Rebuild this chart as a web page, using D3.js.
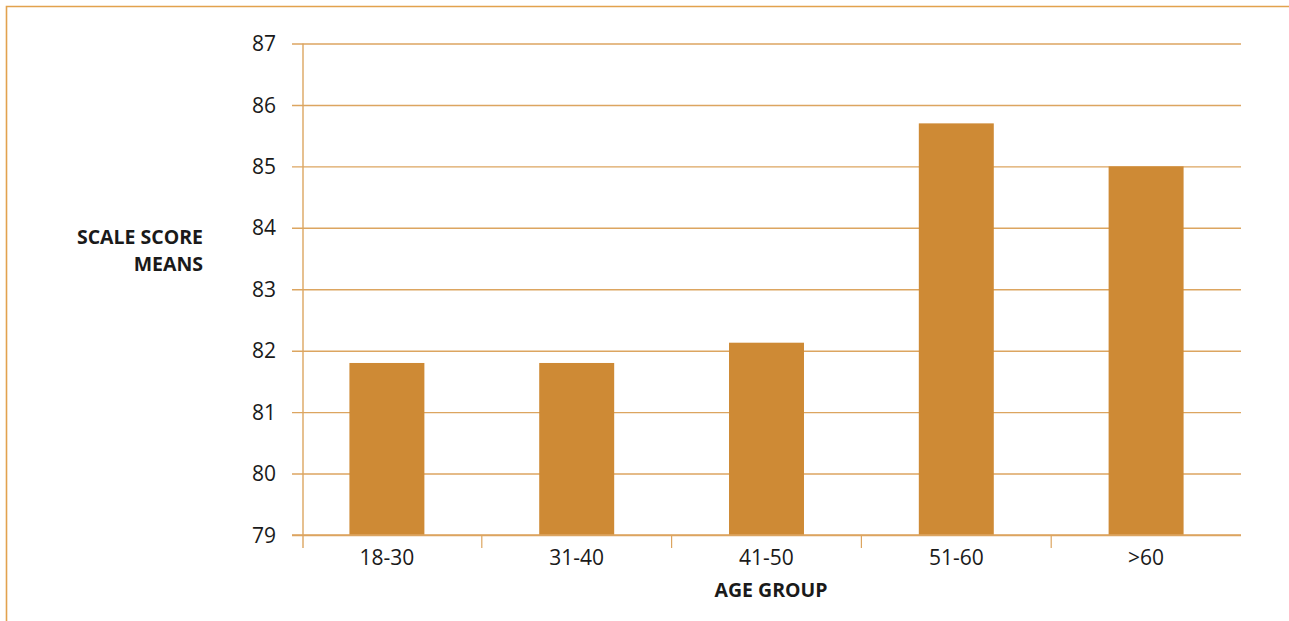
<!DOCTYPE html>
<html>
<head>
<meta charset="utf-8">
<script src="https://cdn.jsdelivr.net/npm/d3@7"></script>
<style>
  html, body { margin: 0; padding: 0; background: #fff; }
  svg { display: block; }
  text { font-family: "Open Sans", "Noto Sans", sans-serif; fill: #1a1a1a; }
</style>
</head>
<body>
<svg id="chart" width="1289" height="621"></svg>
<script>
const categories = ["18-30", "31-40", "41-50", "51-60", ">60"];
const means = [81.8, 81.8, 82.13, 85.7, 85.0];
const yTicks = [79, 80, 81, 82, 83, 84, 85, 86, 87];
const yTitle = ["SCALE SCORE", "MEANS"];
const xTitle = "AGE GROUP";

const W = 1289, H = 621;
const gridColor = "#DCA560";
const barColor = "#CE8A35";
const frameColor = "#E2A24E";

const svg = d3.select("#chart");

// frame
svg.append("path")
  .attr("d", `M6.5,621 L6.5,6.5 L${W},6.5`)
  .attr("fill", "none")
  .attr("stroke", frameColor)
  .attr("stroke-width", 1.6);

const x = d3.scaleBand()
  .domain(categories)
  .range([292, 1241])
  .paddingInner(0.605)
  .paddingOuter(0.3025);

const y = d3.scaleLinear()
  .domain([79, 87])
  .range([535, 43.5]);

const axisX0 = 303;   // y-axis line position
const tickBottom = 548;

// gridlines + y labels
const yAxis = d3.axisLeft(y)
  .tickValues(yTicks)
  .tickFormat(d3.format("d"))
  .tickSize(-(x.range()[1] - x.range()[0]))
  .tickPadding(16);

const gy = svg.append("g")
  .attr("transform", `translate(${x.range()[0]},0)`)
  .call(yAxis);
gy.select(".domain").remove();
gy.selectAll(".tick line")
  .attr("stroke", gridColor)
  .attr("stroke-width", 1.4);
gy.selectAll(".tick text")
  .attr("font-size", 21)
  .attr("font-family", '"Open Sans", sans-serif')
  .attr("fill", "#1a1a1a")
  .attr("dy", "0.34em");

// bars
svg.append("g").selectAll("rect")
  .data(categories.map((c, i) => ({ c, v: means[i] })))
  .join("rect")
  .attr("x", d => x(d.c))
  .attr("width", x.bandwidth())
  .attr("y", d => y(d.v))
  .attr("height", d => y(79) - y(d.v))
  .attr("fill", barColor);

// y axis line
svg.append("line")
  .attr("x1", axisX0).attr("x2", axisX0)
  .attr("y1", y(87)).attr("y2", tickBottom)
  .attr("stroke", gridColor)
  .attr("stroke-width", 1.4);

// x axis line
svg.append("line")
  .attr("x1", x.range()[0]).attr("x2", x.range()[1])
  .attr("y1", y(79)).attr("y2", y(79))
  .attr("stroke", gridColor)
  .attr("stroke-width", 1.4);

// x band boundary ticks
const step = x.step();
const boundaries = categories.slice(1).map((c, i) => x.range()[0] + (i + 1) * step);
svg.append("g").selectAll("line")
  .data(boundaries)
  .join("line")
  .attr("x1", d => d).attr("x2", d => d)
  .attr("y1", y(79)).attr("y2", tickBottom)
  .attr("stroke", gridColor)
  .attr("stroke-width", 1.2);

// x labels
svg.append("g").selectAll("text")
  .data(categories)
  .join("text")
  .attr("x", d => x(d) + x.bandwidth() / 2)
  .attr("y", 565)
  .attr("text-anchor", "middle")
  .attr("font-size", 21)
  .text(d => d);

// axis titles
svg.append("text")
  .attr("x", 771)
  .attr("y", 597)
  .attr("text-anchor", "middle")
  .attr("font-size", 19.5)
  .attr("font-weight", 700)
  .text(xTitle);

svg.append("g").selectAll("text")
  .data(yTitle)
  .join("text")
  .attr("x", 203)
  .attr("y", (d, i) => 244 + i * 27)
  .attr("text-anchor", "end")
  .attr("font-size", 19.5)
  .attr("font-weight", 700)
  .text(d => d);
</script>
</body>
</html>
